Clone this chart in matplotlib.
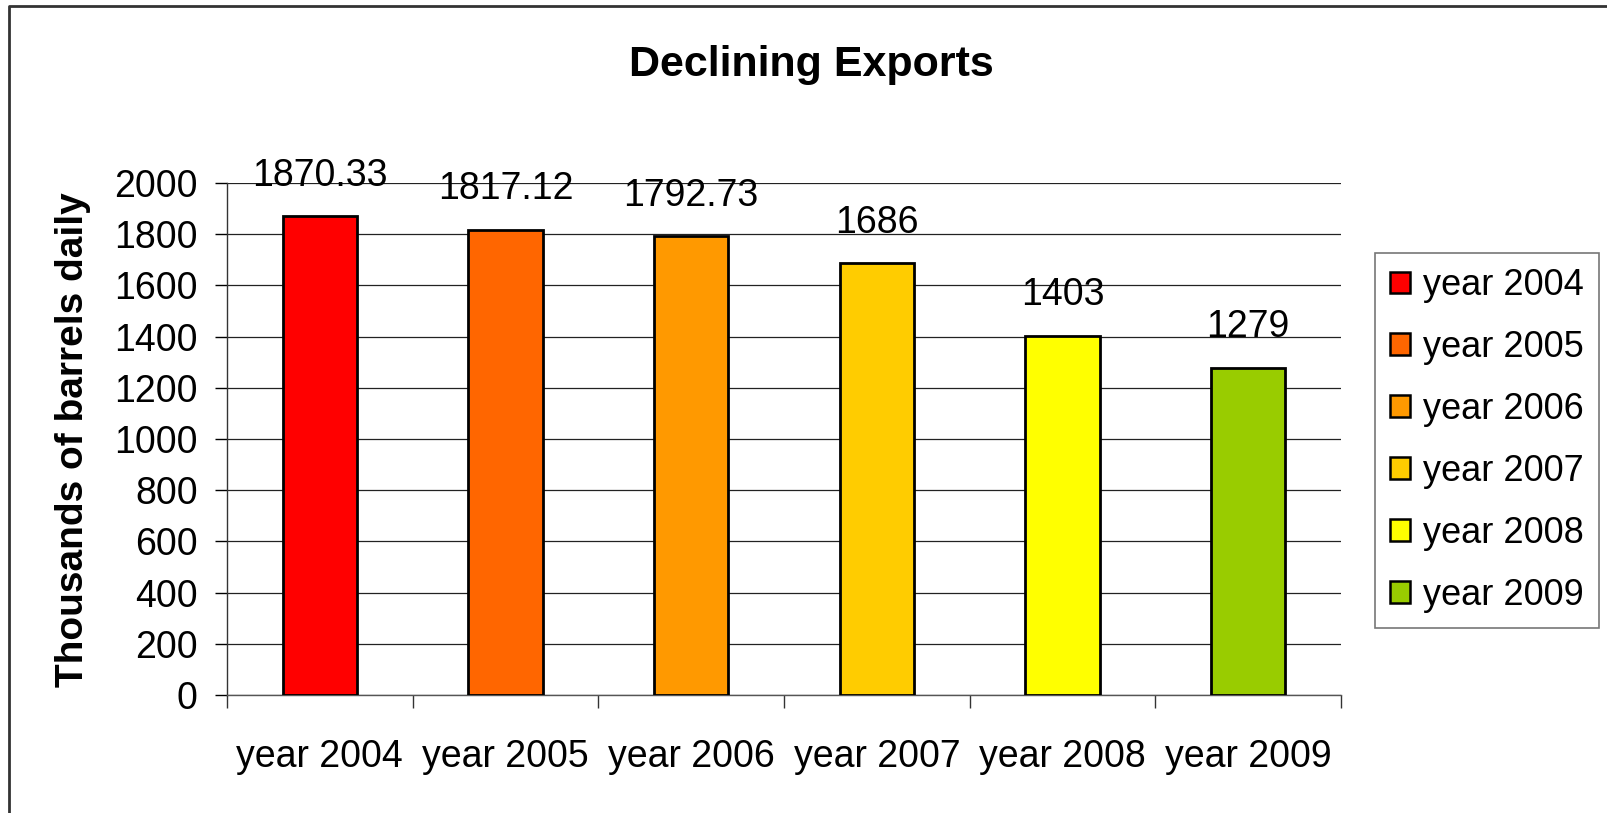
import matplotlib
matplotlib.use("Agg")
import matplotlib.pyplot as plt
from matplotlib.patches import Patch
from matplotlib.lines import Line2D
import numpy as np

categories = ["year 2004", "year 2005", "year 2006", "year 2007", "year 2008", "year 2009"]
values = [1870.33, 1817.12, 1792.73, 1686, 1403, 1279]
bar_labels = ["1870.33", "1817.12", "1792.73", "1686", "1403", "1279"]
colors = ["#FF0000", "#FF6600", "#FF9900", "#FFCC00", "#FFFF00", "#99CC00"]
yticks = [0, 200, 400, 600, 800, 1000, 1200, 1400, 1600, 1800, 2000]

plt.rcParams['font.family'] = ['Liberation Sans', 'DejaVu Sans']

W, H = 1607, 813
fig = plt.figure(figsize=(W / 100, H / 100), dpi=100)
fig.patch.set_facecolor("white")

def fx(px):
    return px / W

def fy(py):
    return 1 - py / H

ax_l, ax_r, ax_t, ax_b = 227, 1341, 183, 695
ax = fig.add_axes([fx(ax_l), fy(ax_b), fx(ax_r) - fx(ax_l), fy(ax_t) - fy(ax_b)])

x = np.arange(len(categories))
for i, (v, c, lab) in enumerate(zip(values, colors, categories)):
    ax.bar(x[i], v, width=0.40, color=c, edgecolor="black", linewidth=2.0,
           label=lab, zorder=3)
    ax.annotate(bar_labels[i], (x[i], v), xytext=(0, 22), textcoords="offset points",
                ha="center", va="baseline", fontsize=27, color="black", zorder=4)

ax.set_xlim(-0.5, len(categories) - 0.5)
ax.set_ylim(0, 2000)
ax.set_yticks(yticks)
ax.set_yticklabels([str(t) for t in yticks], fontsize=27)
ax.tick_params(axis="y", direction="out", length=9, width=1, pad=12, colors="black")

ax.set_xticks(x)
ax.set_xticklabels(categories, fontsize=27)
ax.tick_params(axis="x", which="major", length=0, pad=32)
ax.set_xticks(np.arange(len(categories) + 1) - 0.5, minor=True)
ax.tick_params(axis="x", which="minor", direction="out", length=9, width=1, color="#333333")

ax.yaxis.grid(True, color="#222222", linewidth=0.9, zorder=0)
ax.set_axisbelow(True)
for s in ["top", "right"]:
    ax.spines[s].set_visible(False)
ax.spines["left"].set_color("#333333")
ax.spines["left"].set_linewidth(1)
ax.spines["bottom"].set_color("#555555")
ax.spines["bottom"].set_linewidth(1)

fig.text(fx(811), fy(65), "Declining Exports", ha="center", va="center",
         fontsize=31, fontweight="bold")
fig.text(fx(73), fy(440), "Thousands of barrels daily", ha="center", va="center",
         rotation=90, fontsize=28, fontweight="bold")

handles = [Patch(facecolor=c, edgecolor="black", linewidth=1.8) for c in colors]
leg = fig.legend(handles, categories, loc="upper left",
                 bbox_to_anchor=(fx(1375), fy(253)), fontsize=26,
                 frameon=True, fancybox=False, shadow=False,
                 handlelength=0.55, handleheight=0.55, handletextpad=0.35,
                 labelspacing=0.745, borderpad=0.42, borderaxespad=0.0)
leg.get_frame().set_edgecolor("#555555")
leg.get_frame().set_linewidth(1.2)

# outer chart border (left and top edges visible)
fig.add_artist(Line2D([fx(9), fx(9), fx(W + 5)], [fy(H + 5), fy(6), fy(6)],
                      transform=fig.transFigure, color="#333333", linewidth=2))

fig.savefig("out.png", dpi=100, facecolor="white")
